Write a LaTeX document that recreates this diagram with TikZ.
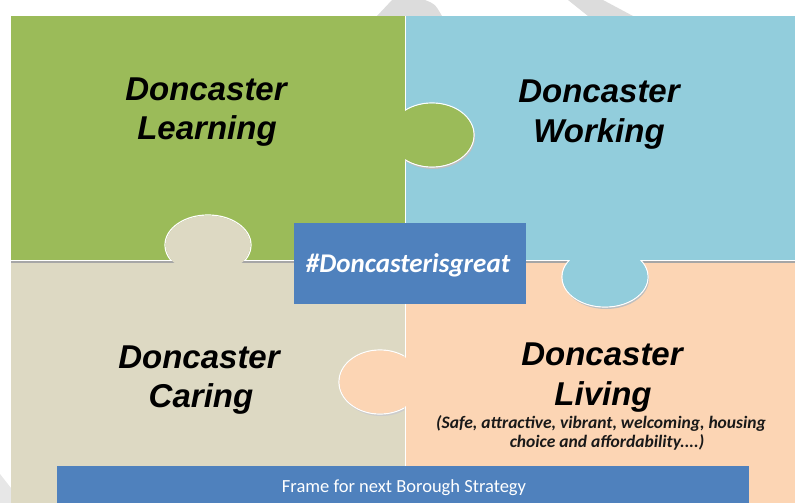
\documentclass[tikz,border=0pt]{standalone}
\usepackage{fontspec}
\setmainfont{Liberation Sans}
\newfontfamily\carl{Carlito}
\definecolor{pgreen}{HTML}{9BBB59}
\definecolor{pblue}{HTML}{92CDDC}
\definecolor{pbeige}{HTML}{DDD9C3}
\definecolor{ppeach}{HTML}{FCD5B4}
\definecolor{dblue}{HTML}{4F81BD}
\definecolor{wmark}{HTML}{DCDCDC}
\begin{document}
\begin{tikzpicture}[x={(1pt,0)},y={(0,-1pt)},
  title/.style={anchor=base,inner sep=0pt,font=\fontsize{33}{39}\selectfont\bfseries\itshape,text=black},
  sub/.style={anchor=base,inner sep=0pt,font=\carl\fontsize{17.5}{20}\selectfont\bfseries\itshape,text=black!90},
  knobline/.style={draw=white,line width=1.2pt}]
\useasboundingbox (0,0) rectangle (795,503);
% faint watermark shapes
\fill[wmark] (377,16) -- (392,0) -- (425,0) .. controls (435,4) .. (442,16) -- cycle;
\fill[wmark] (568,0) -- (603,0) -- (633,16) -- (588,16) -- cycle;
\fill[wmark!70] (0,474) -- (11,488) -- (11,503) -- (0,503) -- cycle;
% quadrants
\fill[pgreen] (11,16) rectangle (405,260);
\fill[pblue] (405,16) rectangle (795,260);
\fill[pbeige] (11,260) rectangle (405,503);
\fill[ppeach] (405,260) rectangle (795,503);
% dividers
\draw[black!35,line width=1.5pt] (11,262) -- (795,262);
\draw[white,line width=1pt] (11,260) -- (795,260);
\draw[white,line width=1pt] (405,16) -- (405,503);
% knob: green into blue
\begin{scope}
  \clip (405.6,16) rectangle (795,259.4);
  \fill[black!25] (433,137) ellipse [x radius=42,y radius=32];
  \draw[knobline] (432,135) ellipse [x radius=42,y radius=32];
\end{scope}
\begin{scope}
  \clip (403,16) rectangle (795,259.4);
  \fill[pgreen] (432,135) ellipse [x radius=41.4,y radius=31.4];
\end{scope}
% knob: beige into green
\begin{scope}
  \clip (11,16) rectangle (404.4,259.4);
  \draw[knobline] (208,245) ellipse [x radius=43,y radius=30];
\end{scope}
\begin{scope}
  \clip (11,16) rectangle (404.4,262);
  \fill[pbeige] (208,245) ellipse [x radius=42.4,y radius=29.4];
\end{scope}
% knob: blue into peach
\begin{scope}
  \clip (405.6,260.6) rectangle (795,503);
  \fill[black!25] (606,279) ellipse [x radius=43,y radius=30];
  \draw[knobline] (605,277) ellipse [x radius=43,y radius=30];
\end{scope}
\begin{scope}
  \clip (405.6,258) rectangle (795,503);
  \fill[pblue] (605,277) ellipse [x radius=42.4,y radius=29.4];
\end{scope}
% knob: peach into beige
\begin{scope}
  \clip (11,260.6) rectangle (404.4,503);
  \fill[black!20] (381,384) ellipse [x radius=41,y radius=32];
  \draw[knobline] (380,382) ellipse [x radius=41,y radius=32];
\end{scope}
\begin{scope}
  \clip (11,260.6) rectangle (407,503);
  \fill[ppeach] (380,382) ellipse [x radius=40.4,y radius=31.4];
\end{scope}
% titles
\node[title] (l1) at (206,100) {Doncaster};
\node[title] (l2) at (207,139) {Learning};
\node[title] (w1) at (599,102) {Doncaster};
\node[title] (w2) at (599,142) {Working};
\node[title] (c1) at (199,368) {Doncaster};
\node[title] (c2) at (201,407) {Caring};
\node[title] (v1) at (602,365) {Doncaster};
\node[title] (v2) at (603,405) {Living};
\node[sub] (s1) at (601,428) {(Safe, attractive, vibrant, welcoming, housing};
\node[sub] (s2) at (607,447) {choice and affordability....)};
% centre box
\fill[dblue] (294,223) rectangle (526,304);
\node[anchor=base,inner sep=0pt,text=white,font=\carl\fontsize{27}{31}\selectfont\bfseries\itshape] (tag) at (408,272) {\#Doncasterisgreat};
% banner
\fill[dblue] (57,466) rectangle (749,503);
\node[anchor=base,inner sep=0pt,text=white,font=\carl\fontsize{18.5}{22}\selectfont] (frame) at (404,492) {Frame for next Borough Strategy};
\end{tikzpicture}
\end{document}
